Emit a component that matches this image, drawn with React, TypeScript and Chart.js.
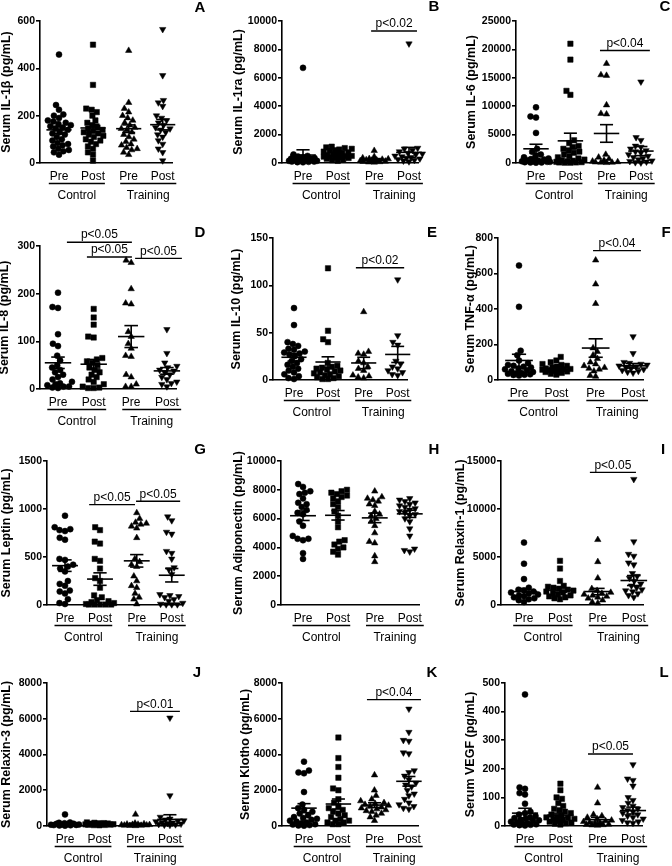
import React, { useEffect, useRef } from "react";
import { Chart, registerables } from "chart.js";
Chart.register(...registerables);

const FONT = "'Liberation Sans', Arial, Helvetica, sans-serif";
Chart.defaults.font.family = FONT;

const groupLabels = ["Pre", "Post", "Pre", "Post"];
const groupNames = ["Control", "Training"];
const catX = [0, 1, 2.05, 3.05];

// A: IL-1β
const il1bCtrlPre = [458, 245, 225, 205, 200, 190, 180, 175, 170, 165, 160, 155, 150, 145, 140, 130, 125, 120, 110, 100, 95, 85, 80, 75, 70, 60, 55, 50, 45, 35];
const il1bCtrlPost = [500, 330, 230, 225, 215, 200, 180, 170, 160, 150, 145, 140, 135, 130, 125, 120, 115, 110, 100, 95, 90, 80, 70, 60, 45, 35, 10];
const il1bTrainPre = [475, 255, 230, 215, 200, 190, 180, 170, 160, 150, 145, 140, 130, 120, 110, 100, 90, 80, 75, 65, 60, 55, 45, 35];
const il1bTrainPost = [565, 370, 265, 255, 240, 200, 190, 180, 170, 160, 150, 145, 140, 130, 120, 110, 95, 80, 60, 45, 10];
const il1bMeans = [140, 148, 145, 162];
const il1bSems = [15, 16, 16, 22];

// B: IL-1ra
const il1raCtrlPre = [6700, 600, 500, 450, 400, 350, 300, 300, 250, 200, 200, 150, 150, 100, 100, 80, 60, 50];
const il1raCtrlPost = [1150, 1100, 1050, 1000, 950, 900, 850, 800, 750, 700, 650, 600, 550, 500, 480, 450, 420, 400, 380, 350, 300, 250, 200, 150];
const il1raTrainPre = [870, 450, 350, 300, 280, 250, 220, 200, 180, 150, 120, 100, 80, 60, 50];
const il1raTrainPost = [8400, 1050, 1000, 900, 800, 700, 650, 600, 500, 450, 400, 350, 300, 250, 200, 150, 100];
const il1raMeans = [560, 520, 250, 750];
const il1raSems = [370, 60, 60, 350];
const il1raSig = [{ from: 1.96, to: 3.28, y: 9300, text: "p<0.02" }];

// C: IL-6
const il6CtrlPre = [9800, 8200, 8000, 5300, 2500, 2000, 1500, 1200, 1000, 800, 700, 600, 500, 400, 300, 300, 200, 200, 150, 100, 100, 50];
const il6CtrlPost = [21000, 18200, 12700, 12000, 4000, 3500, 3000, 2800, 2500, 2200, 2000, 1800, 1500, 1200, 1000, 800, 600, 500, 400, 300, 200, 150, 100, 100, 50, 50];
const il6TrainPre = [17500, 15500, 15400, 10200, 8700, 8600, 1500, 1000, 700, 500, 300, 200, 150, 100, 100, 50];
const il6TrainPost = [14300, 4500, 4000, 3000, 2800, 2500, 2200, 2000, 1800, 1500, 1200, 1000, 800, 600, 400, 300, 200, 100, 50];
const il6Means = [2500, 3900, 5200, 2100];
const il6Sems = [800, 1350, 1550, 800];
const il6Sig = [{ from: 1.86, to: 3.31, y: 19800, text: "p<0.04" }];

// D: IL-8
const il8CtrlPre = [202, 172, 170, 115, 95, 90, 70, 60, 50, 45, 40, 35, 30, 25, 20, 15, 12, 10, 8, 5, 5, 3, 2];
const il8CtrlPost = [168, 150, 135, 110, 108, 65, 62, 58, 55, 50, 45, 40, 35, 30, 25, 20, 15, 10, 5, 3, 2, 2];
const il8TrainPre = [270, 265, 210, 180, 178, 120, 110, 95, 85, 70, 68, 30, 25, 10, 5, 5];
const il8TrainPost = [125, 75, 55, 48, 45, 40, 38, 35, 30, 25, 20, 15, 12, 10, 5];
const il8Means = [55, 52, 110, 38];
const il8Sems = [12, 10, 23, 7];
const il8Sig = [
  { from: 0.25, to: 2.07, y: 308, text: "p<0.05" },
  { from: 0.81, to: 2.07, y: 277, text: "p<0.05" },
  { from: 2.16, to: 3.47, y: 274, text: "p<0.05" },
];

// E: IL-10
const il10CtrlPre = [76, 58, 40, 38, 36, 33, 32, 30, 29, 28, 27, 25, 22, 20, 18, 16, 14, 12, 10, 8, 6, 4, 2, 1];
const il10CtrlPost = [118, 52, 43, 40, 18, 15, 14, 13, 12, 11, 10, 9, 8, 7, 6, 5, 4, 3, 2, 1, 1];
const il10TrainPre = [72, 30, 28, 27, 20, 18, 14, 12, 10, 5, 4, 3, 2];
const il10TrainPost = [106, 47, 40, 37, 20, 17, 14, 12, 10, 8, 6, 5];
const il10Means = [24, 19, 18, 27];
const il10Sems = [4, 5.5, 6, 8.5];
const il10Sig = [{ from: 1.82, to: 3.24, y: 118.5, text: "p<0.02" }];

// F: TNF-α
const tnfCtrlPre = [645, 412, 165, 140, 110, 95, 85, 80, 75, 70, 65, 60, 55, 50, 45, 40, 38, 35, 32, 30, 28, 25];
const tnfCtrlPost = [130, 110, 100, 90, 85, 80, 75, 70, 65, 62, 60, 58, 55, 52, 50, 48, 45, 40, 35, 30];
const tnfTrainPre = [675, 540, 430, 180, 160, 140, 120, 100, 90, 80, 70, 65, 60, 50, 25, 20];
const tnfTrainPost = [245, 150, 100, 95, 90, 85, 80, 75, 70, 65, 60, 55, 50, 45, 40];
const tnfMeans = [110, 62, 180, 80];
const tnfSems = [35, 6, 52, 13];
const tnfSig = [{ from: 1.98, to: 3.26, y: 729, text: "p<0.04" }];

// G: Leptin
const leptinCtrlPre = [930, 810, 790, 780, 770, 700, 680, 480, 470, 420, 400, 380, 350, 250, 220, 200, 150, 140, 120, 60, 20, 10];
const leptinCtrlPost = [810, 780, 660, 640, 480, 460, 380, 280, 250, 180, 100, 80, 50, 40, 30, 20, 10, 5, 5, 5, 5, 5];
const leptinTrainPre = [960, 900, 860, 850, 840, 820, 800, 700, 480, 450, 420, 400, 300, 250, 200, 180, 120, 80, 60, 10];
const leptinTrainPost = [920, 880, 760, 740, 560, 540, 480, 390, 370, 320, 110, 100, 90, 80, 60, 40, 20, 10, 5, 5, 5];
const leptinMeans = [410, 270, 460, 310];
const leptinSems = [60, 65, 65, 70];
const leptinSig = [
  { from: 0.69, to: 2.0, y: 1046, text: "p<0.05" },
  { from: 2.03, to: 3.29, y: 1081, text: "p<0.05" },
];

// H: Adiponectin
const adipoCtrlPre = [8400, 8200, 7900, 7800, 7700, 7400, 7100, 7000, 6800, 6600, 6400, 6300, 5800, 5500, 4800, 4600, 4600, 4500, 3600, 3200];
const adipoCtrlPost = [8000, 7900, 7800, 7700, 7600, 7500, 7400, 7200, 7000, 6800, 6500, 6200, 5800, 5400, 4500, 4400, 4200, 4000, 3900, 3700, 3500];
const adipoTrainPre = [7900, 7500, 7400, 7300, 7200, 7000, 6900, 6500, 6300, 6200, 6000, 5800, 5500, 5000, 4400, 4300, 3400, 3000];
const adipoTrainPost = [7400, 7300, 7200, 7100, 7000, 6900, 6800, 6700, 6600, 6500, 6400, 6300, 6200, 6000, 5800, 5300, 4800, 3900, 3800, 3700];
const adipoMeans = [6200, 6230, 6050, 6330];
const adipoSems = [330, 330, 330, 250];

// I: Relaxin-1
const rln1CtrlPre = [6500, 4300, 2700, 1800, 1600, 1500, 1400, 1300, 1200, 1100, 1000, 900, 800, 700, 600, 500, 300];
const rln1CtrlPost = [4600, 3800, 2500, 2000, 1900, 1800, 1700, 1600, 1500, 1400, 1300, 1200, 1100, 1000, 900, 800, 700, 600];
const rln1TrainPre = [6800, 4500, 2800, 1700, 1500, 1300, 1200, 1100, 1000, 900, 800, 700, 500, 300, 200];
const rln1TrainPost = [13100, 6600, 5300, 5100, 4400, 4200, 3300, 3000, 2800, 2500, 2200, 2000, 1800, 1600, 1500, 1400, 1200, 1000, 800];
const rln1Means = [1400, 1550, 1400, 2550];
const rln1Sems = [330, 230, 330, 520];
const rln1Sig = [{ from: 1.83, to: 3.11, y: 13810, text: "p<0.05" }];

// J: Relaxin-3
const rln3CtrlPre = [650, 200, 180, 150, 130, 120, 100, 90, 80, 70, 60, 50, 40, 30, 20];
const rln3CtrlPost = [200, 180, 160, 150, 140, 130, 120, 110, 100, 90, 80, 70, 60, 50, 40];
const rln3TrainPre = [650, 150, 120, 100, 90, 80, 70, 60, 50, 40, 30, 20, 10];
const rln3TrainPost = [6050, 1700, 500, 400, 350, 300, 280, 250, 200, 180, 150, 120, 100, 80, 60, 50];
const rln3Means = [110, 110, 100, 370];
const rln3Sems = [40, 15, 50, 260];
const rln3Sig = [{ from: 1.89, to: 3.34, y: 6410, text: "p<0.01" }];

// K: Klotho
const klothoCtrlPre = [3600, 3100, 3000, 2950, 1900, 1200, 1000, 900, 800, 700, 600, 500, 450, 400, 350, 300, 250, 200, 150, 100, 80, 50, 30, 20];
const klothoCtrlPost = [4950, 3800, 3300, 2700, 2100, 2000, 1500, 1300, 1100, 1000, 900, 800, 700, 600, 500, 400, 300, 300, 200, 200, 100, 100];
const klothoTrainPre = [2850, 2000, 1700, 1500, 1400, 1300, 1250, 1200, 1150, 1100, 1050, 1000, 950, 900, 850, 800, 700, 600, 500, 300];
const klothoTrainPost = [6550, 5250, 4800, 4750, 4100, 4050, 3100, 3000, 2800, 2600, 2400, 2300, 2200, 2000, 1800, 1700, 1500, 1300, 1200, 1100, 1000, 950];
const klothoMeans = [1000, 1230, 1170, 2500];
const klothoSems = [250, 280, 130, 270];
const klothoSig = [{ from: 1.83, to: 3.4, y: 7070, text: "p<0.04" }];

// L: VEGF
const vegfCtrlPre = [460, 135, 130, 115, 110, 78, 50, 45, 40, 35, 30, 28, 25, 22, 20, 18, 15, 12, 10, 8, 6, 5, 4, 3, 2];
const vegfCtrlPost = [148, 125, 100, 95, 80, 70, 60, 55, 50, 45, 40, 35, 32, 30, 28, 25, 22, 20, 18, 15, 12, 10, 8, 5];
const vegfTrainPre = [135, 80, 40, 35, 30, 25, 20, 18, 15, 12, 10, 8, 6, 5, 4, 3, 2];
const vegfTrainPost = [215, 165, 160, 140, 100, 90, 80, 70, 65, 60, 55, 50, 45, 40, 35, 30, 25, 20, 15, 12, 10];
const vegfMeans = [45, 38, 22, 54];
const vegfSems = [17, 7, 8, 12];
const vegfSig = [{ from: 1.78, to: 3.05, y: 252, text: "p<0.05" }];

type Sig = { from: number; to: number; y: number; text: string };
type Panel = {
  letter: string; title: string; max: number; step: number;
  values: number[][]; means: number[]; sems: number[]; sig: Sig[];
};

const panels: Panel[] = [
  { letter: "A", title: "Serum IL-1β (pg/mL)", max: 600, step: 200, values: [il1bCtrlPre, il1bCtrlPost, il1bTrainPre, il1bTrainPost], means: il1bMeans, sems: il1bSems, sig: [] },
  { letter: "B", title: "Serum IL-1ra (pg/mL)", max: 10000, step: 2000, values: [il1raCtrlPre, il1raCtrlPost, il1raTrainPre, il1raTrainPost], means: il1raMeans, sems: il1raSems, sig: il1raSig },
  { letter: "C", title: "Serum IL-6 (pg/mL)", max: 25000, step: 5000, values: [il6CtrlPre, il6CtrlPost, il6TrainPre, il6TrainPost], means: il6Means, sems: il6Sems, sig: il6Sig },
  { letter: "D", title: "Serum IL-8 (pg/mL)", max: 300, step: 100, values: [il8CtrlPre, il8CtrlPost, il8TrainPre, il8TrainPost], means: il8Means, sems: il8Sems, sig: il8Sig },
  { letter: "E", title: "Serum IL-10 (pg/mL)", max: 150, step: 50, values: [il10CtrlPre, il10CtrlPost, il10TrainPre, il10TrainPost], means: il10Means, sems: il10Sems, sig: il10Sig },
  { letter: "F", title: "Serum TNF-α (pg/mL)", max: 800, step: 200, values: [tnfCtrlPre, tnfCtrlPost, tnfTrainPre, tnfTrainPost], means: tnfMeans, sems: tnfSems, sig: tnfSig },
  { letter: "G", title: "Serum Leptin (pg/mL)", max: 1500, step: 500, values: [leptinCtrlPre, leptinCtrlPost, leptinTrainPre, leptinTrainPost], means: leptinMeans, sems: leptinSems, sig: leptinSig },
  { letter: "H", title: "Serum Adiponectin (pg/mL)", max: 10000, step: 2000, values: [adipoCtrlPre, adipoCtrlPost, adipoTrainPre, adipoTrainPost], means: adipoMeans, sems: adipoSems, sig: [] },
  { letter: "I", title: "Serum Relaxin-1 (pg/mL)", max: 15000, step: 5000, values: [rln1CtrlPre, rln1CtrlPost, rln1TrainPre, rln1TrainPost], means: rln1Means, sems: rln1Sems, sig: rln1Sig },
  { letter: "J", title: "Serum Relaxin-3 (pg/mL)", max: 8000, step: 2000, values: [rln3CtrlPre, rln3CtrlPost, rln3TrainPre, rln3TrainPost], means: rln3Means, sems: rln3Sems, sig: rln3Sig },
  { letter: "K", title: "Serum Klotho (pg/mL)", max: 8000, step: 2000, values: [klothoCtrlPre, klothoCtrlPost, klothoTrainPre, klothoTrainPost], means: klothoMeans, sems: klothoSems, sig: klothoSig },
  { letter: "L", title: "Serum VEGF (pg/mL)", max: 500, step: 100, values: [vegfCtrlPre, vegfCtrlPost, vegfTrainPre, vegfTrainPost], means: vegfMeans, sems: vegfSems, sig: vegfSig },
];

// Layout (page pixels)
type Layout = { px: number; py: number; w: number; h: number; left: number; top: number; bottom: number; cat0: number; unit: number; titleC: number; lx: number; ly: number };
const layouts: Layout[] = [
  { px: 0, py: 0, w: 224, h: 216, left: 40, top: 21, bottom: 163, cat0: 59, unit: 34, titleC: 7, lx: 200, ly: 8 },
  { px: 224, py: 0, w: 224, h: 216, left: 282, top: 21, bottom: 163, cat0: 303, unit: 34.75, titleC: 15, lx: 434, ly: 7 },
  { px: 448, py: 0, w: 224, h: 216, left: 516, top: 21, bottom: 163, cat0: 536, unit: 34.4, titleC: 24, lx: 665, ly: 7 },
  { px: 0, py: 216, w: 224, h: 216, left: 40, top: 246, bottom: 389, cat0: 58, unit: 35.7, titleC: 5, lx: 200, ly: 233 },
  { px: 224, py: 216, w: 224, h: 216, left: 273, top: 238, bottom: 380, cat0: 294, unit: 34, titleC: 13, lx: 432, ly: 233 },
  { px: 448, py: 216, w: 224, h: 216, left: 498, top: 238, bottom: 380, cat0: 519, unit: 37.4, titleC: 23, lx: 666, ly: 233 },
  { px: 0, py: 432, w: 224, h: 218, left: 47, top: 461, bottom: 605, cat0: 65, unit: 35, titleC: 7, lx: 200, ly: 450 },
  { px: 224, py: 432, w: 224, h: 218, left: 281, top: 461, bottom: 605, cat0: 303, unit: 35, titleC: 15, lx: 434, ly: 450 },
  { px: 448, py: 432, w: 224, h: 218, left: 501, top: 461, bottom: 605, cat0: 524, unit: 36, titleC: 13, lx: 663, ly: 450 },
  { px: 0, py: 650, w: 224, h: 216, left: 47, top: 683, bottom: 826, cat0: 65, unit: 34.4, titleC: 7, lx: 197, ly: 673 },
  { px: 224, py: 650, w: 224, h: 216, left: 282, top: 683, bottom: 826, cat0: 304, unit: 34.4, titleC: 22, lx: 432, ly: 673 },
  { px: 448, py: 650, w: 224, h: 216, left: 505, top: 683, bottom: 826, cat0: 525, unit: 35.4, titleC: 23, lx: 664, ly: 673 },
];

const pointStyles = ["circle", "rect", "triangle", "triangle"];
const pointRot = [0, 0, 0, 180];
const pointRad = [3, 3.8, 3.7, 3.7];

// deterministic beeswarm offsets (pixels)
function swarm(vals: number[], pxPerUnit: number, d: number, maxOff: number): number[] {
  const order = vals.map((_, i) => i).sort((a, b) => vals[a] - vals[b]);
  const placed: { x: number; y: number }[] = [];
  const offs = new Array(vals.length).fill(0);
  for (const i of order) {
    const y = vals[i] * pxPerUnit;
    const near = placed.filter((p) => Math.abs(p.y - y) < d);
    const cands: number[] = [0];
    for (const p of near) {
      const dx = Math.sqrt(Math.max(0, d * d - (p.y - y) ** 2));
      cands.push(p.x + dx, p.x - dx);
    }
    cands.sort((a, b) => Math.abs(a) - Math.abs(b) || a - b);
    let best: number | null = null;
    for (const c of cands) {
      if (Math.abs(c) > maxOff + 1e-6) continue;
      if (near.every((p) => (p.x - c) ** 2 + (p.y - y) ** 2 >= d * d - 0.01)) { best = c; break; }
    }
    if (best === null) {
      let bestScore = -1;
      for (let c = -maxOff; c <= maxOff + 1e-6; c += 0.5) {
        const m = Math.min(...near.map((p) => Math.hypot(p.x - c, p.y - y)));
        if (m > bestScore) { bestScore = m; best = c; }
      }
    }
    placed.push({ x: best as number, y });
    offs[i] = best as number;
  }
  return offs;
}

function makeOverlay(p: Panel, L: Layout) {
  return {
    id: "overlay",
    afterDatasetsDraw(chart: any) {
      const { ctx } = chart;
      const x = chart.scales.x, y = chart.scales.y;
      ctx.save();
      ctx.strokeStyle = "#000";
      ctx.lineWidth = 1.6;
      const seg = (x1: number, y1: number, x2: number, y2: number) => {
        ctx.beginPath(); ctx.moveTo(x1, y1); ctx.lineTo(x2, y2); ctx.stroke();
      };
      p.means.forEach((m, g) => {
        const cx = x.getPixelForValue(catX[g]);
        const my = y.getPixelForValue(m);
        const hi = y.getPixelForValue(m + p.sems[g]);
        const lo = y.getPixelForValue(Math.max(0, m - p.sems[g]));
        const mw = 0.37 * L.unit, cw = 0.19 * L.unit;
        seg(cx - mw, my, cx + mw, my);
        seg(cx, hi, cx, lo);
        seg(cx - cw, hi, cx + cw, hi);
        seg(cx - cw, lo, cx + cw, lo);
      });
      ctx.restore();
    },
    afterDraw(chart: any) {
      const { ctx } = chart;
      const x = chart.scales.x, y = chart.scales.y;
      const area = chart.chartArea;
      ctx.save();
      ctx.fillStyle = "#000";
      ctx.strokeStyle = "#000";
      ctx.textAlign = "center";
      ctx.textBaseline = "middle";
      // y title
      ctx.save();
      ctx.font = `bold 12.5px ${FONT}`;
      ctx.translate(L.titleC, (area.top + area.bottom) / 2);
      ctx.rotate(-Math.PI / 2);
      ctx.fillText(p.title, 0, 0);
      ctx.restore();
      // category labels
      ctx.font = `12px ${FONT}`;
      groupLabels.forEach((t, g) => ctx.fillText(t, x.getPixelForValue(catX[g]), area.bottom + 13.5));
      ctx.lineWidth = 1.4;
      const spans = [[catX[0] - 0.3, catX[1] + 0.35], [catX[2] - 0.25, catX[3] + 0.4]];
      spans.forEach((s, i) => {
        const a = x.getPixelForValue(s[0]), b = x.getPixelForValue(s[1]);
        ctx.beginPath(); ctx.moveTo(a, area.bottom + 20.5); ctx.lineTo(b, area.bottom + 20.5); ctx.stroke();
        ctx.fillText(groupNames[i], (a + b) / 2, area.bottom + 32.5);
      });
      // significance bars
      p.sig.forEach((s) => {
        const a = x.getPixelForValue(s.from), b = x.getPixelForValue(s.to);
        const yy = y.getPixelForValue(s.y);
        ctx.beginPath(); ctx.moveTo(a, yy); ctx.lineTo(b, yy); ctx.stroke();
        ctx.fillText(s.text, (a + b) / 2, yy - 7);
      });
      // panel letter
      ctx.font = `bold 15px ${FONT}`;
      ctx.fillText(p.letter, L.lx - L.px, L.ly - L.py);
      ctx.restore();
    },
  };
}

function PanelChart({ p, L }: { p: Panel; L: Layout }) {
  const ref = useRef<HTMLCanvasElement | null>(null);
  useEffect(() => {
    if (!ref.current) return;
    const areaLeft = L.left - L.px;
    const areaRight = L.cat0 + L.unit * catX[3] + 10 - L.px;
    const areaTop = L.top - L.py;
    const areaBottom = L.bottom - L.py;
    const xmin = -(L.cat0 - L.left) / L.unit;
    const xmax = (areaRight + L.px - L.cat0) / L.unit;
    const pxPerUnit = (L.bottom - L.top) / p.max;
    const datasets = p.values.map((vals, g) => {
      const offs = swarm(vals, pxPerUnit, 5.6, 14);
      return {
        data: vals.map((v, i) => ({ x: catX[g] + offs[i] / L.unit, y: v })),
        pointStyle: pointStyles[g],
        rotation: pointRot[g],
        pointRadius: pointRad[g],
        backgroundColor: "#000",
        borderColor: "#000",
        borderWidth: 0.5,
        clip: false,
      };
    });
    const chart = new Chart(ref.current, {
      type: "scatter",
      data: { datasets } as any,
      options: {
        responsive: false,
        animation: false,
        events: [],
        layout: { padding: { left: 0, top: areaTop, right: L.w - areaRight, bottom: 0 } },
        plugins: { legend: { display: false }, tooltip: { enabled: false } },
        scales: {
          x: {
            type: "linear", min: xmin, max: xmax,
            grid: { display: false },
            ticks: { display: false },
            border: { display: true, color: "#000", width: 1.6 },
            afterFit: (s: any) => { s.height = L.h - areaBottom; s.paddingLeft = 0; s.paddingRight = 0; },
          },
          y: {
            type: "linear", min: 0, max: p.max,
            ticks: { stepSize: p.step, color: "#000", padding: 1, font: { size: 10.5, weight: "bold" }, callback: (v: any) => String(v) },
            grid: { drawOnChartArea: false, drawTicks: true, tickLength: 4, color: "#000", lineWidth: 1.6 },
            border: { display: true, color: "#000", width: 1.6 },
            afterFit: (s: any) => { s.width = areaLeft; s.paddingTop = 0; s.paddingBottom = 0; },
          },
        },
      } as any,
      plugins: [makeOverlay(p, L)],
    });
    return () => chart.destroy();
  }, []);
  return (
    <canvas
      ref={ref}
      width={L.w}
      height={L.h}
      style={{ position: "absolute", left: L.px, top: L.py, width: L.w, height: L.h }}
    />
  );
}

export default function App() {
  return (
    <div style={{ position: "absolute", left: 0, top: 0, width: 672, height: 866, background: "#fff", overflow: "hidden" }}>
      {panels.map((p, i) => (
        <PanelChart key={p.letter} p={p} L={layouts[i]} />
      ))}
    </div>
  );
}
